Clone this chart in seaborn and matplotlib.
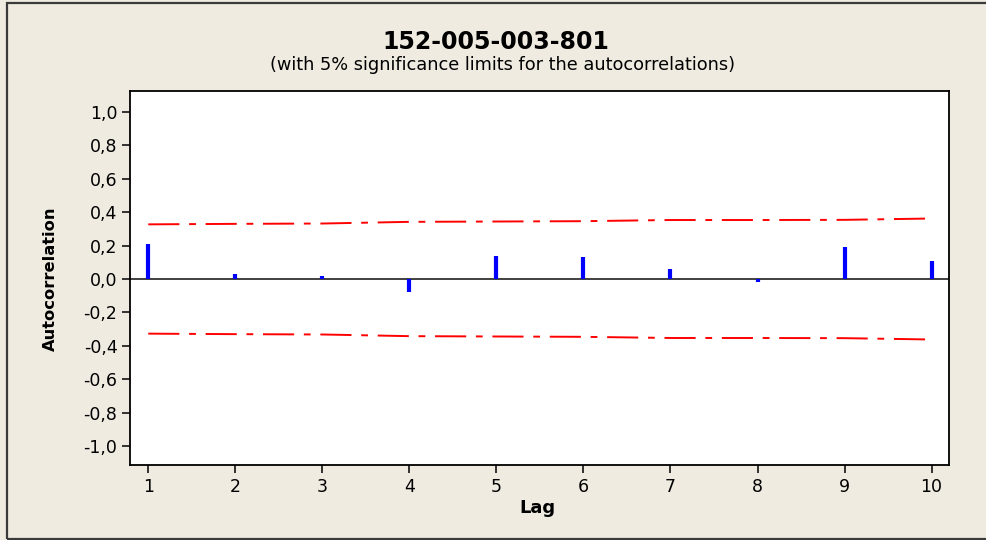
import numpy as np
import pandas as pd
import matplotlib
matplotlib.use("Agg")
import matplotlib.pyplot as plt
import seaborn as sns
from matplotlib.patches import Rectangle

lags = [1, 2, 3, 4, 5, 6, 7, 8, 9, 10]
acf = [0.21, 0.03, 0.015, -0.08, 0.135, 0.13, 0.06, -0.02, 0.19, 0.11]
upper = [0.327, 0.330, 0.332, 0.342, 0.344, 0.346, 0.353, 0.353, 0.354, 0.362]
lower = [-u for u in upper]
yticks = [-1.0, -0.8, -0.6, -0.4, -0.2, 0.0, 0.2, 0.4, 0.6, 0.8, 1.0]

df = pd.DataFrame({"Lag": lags, "ACF": acf, "upper": upper, "lower": lower})

sns.set_theme(style="white")
plt.rcParams["font.family"] = ["DejaVu Sans"]

bg = "#efebe1"
fig = plt.figure(figsize=(9.86, 5.4), dpi=100, facecolor=bg)
ax = fig.add_axes([130 / 986, 1 - 465 / 540, 819 / 986, 374 / 540])
ax.set_facecolor("white")

# outer frame (right side runs off the picture)
fig.patches.append(Rectangle((7 / 986, 1 - 539 / 540), 1.1, 536 / 540,
                             transform=fig.transFigure, fill=False,
                             edgecolor="#3a3a3a", linewidth=1.6))

# zero line
ax.axhline(0, color="#404040", linewidth=1.4, zorder=2)

# autocorrelation bars
ax.vlines(df["Lag"], 0, df["ACF"], color="#0000ff", linewidth=3.0, zorder=3)

# significance limits
for col in ["upper", "lower"]:
    sns.lineplot(data=df, x="Lag", y=col, ax=ax, color="#ff0000",
                 linewidth=1.4, dashes=False, zorder=2)
for line in ax.get_lines()[1:]:
    line.set_dashes((16, 5, 3.5, 5))

ax.set_xlim(0.79, 10.2)
ax.set_ylim(-1.113, 1.125)
ax.set_xticks(lags)
ax.set_xticklabels([str(l) for l in lags])
ax.set_yticks(yticks)
ax.set_yticklabels([f"{v:.1f}".replace(".", ",") for v in yticks])
ax.set_xlabel("")
ax.set_ylabel("")
ax.tick_params(axis="both", which="major", direction="out", length=6,
               width=1.1, color="black", labelsize=12.5, pad=3,
               labelcolor="black", bottom=True, left=True)

for s in ax.spines.values():
    s.set_color("black")
    s.set_linewidth(1.3)

fig.text(0.503, 1 - 42 / 540, "152-005-003-801", ha="center", va="center",
         fontsize=17, fontweight="bold", color="black")
fig.text(0.51, 1 - 65 / 540,
         "(with 5% significance limits for the autocorrelations)",
         ha="center", va="center", fontsize=12.8, color="black")
fig.text(50 / 986, 1 - 279 / 540, "Autocorrelation", rotation=90,
         ha="center", va="center", fontsize=11.7, fontweight="bold",
         color="black")
fig.text(537 / 986, 1 - 508 / 540, "Lag", ha="center", va="center",
         fontsize=13, fontweight="bold", color="black")

fig.savefig("out.png", dpi=100, facecolor=bg)
